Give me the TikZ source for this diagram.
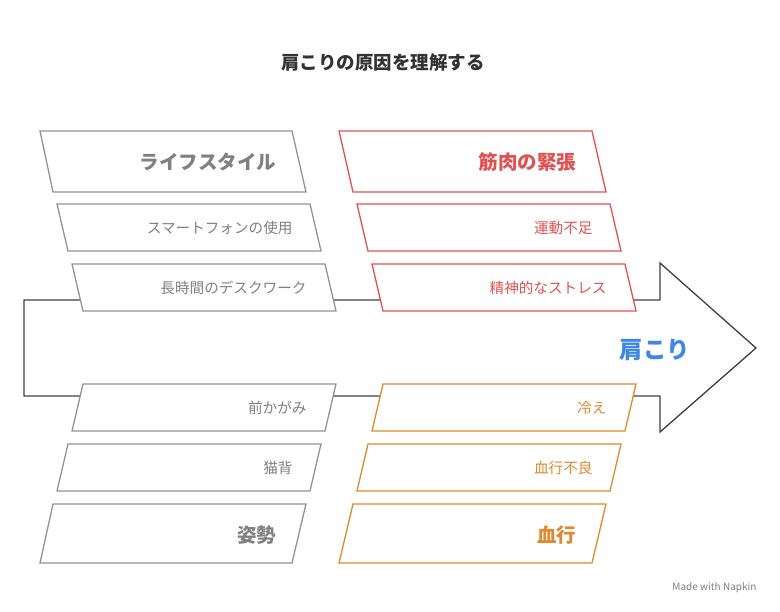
\documentclass[tikz,border=0pt]{standalone}
\usepackage{fontspec}
\setmainfont{Noto Sans CJK JP}
\begin{document}
\begin{tikzpicture}[x=1pt,y=-1pt,
  gbox/.style={draw=gray!85,line width=1.3pt,fill=white},
  rbox/.style={draw=rc,line width=1.3pt,fill=white},
  obox/.style={draw=oc,line width=1.3pt,fill=white},
  big/.style={font=\bfseries\fontsize{19.5}{21}\selectfont,anchor=east},
  small/.style={font=\fontsize{14.6}{16}\selectfont,anchor=east}]
\useasboundingbox (0,0) rectangle (780,612);
\definecolor{rc}{HTML}{E05252}\definecolor{oc}{HTML}{E0892E}\definecolor{gc}{HTML}{808080}\definecolor{bc}{HTML}{3E87E6}
\node[font=\bfseries\fontsize{18.5}{20}\selectfont,text=black!80] (title) at (383,62) {肩こりの原因を理解する};
\draw[line width=1.3pt,draw=black!75,line join=miter] (80,300) -- (24,300) -- (24,396) -- (660,396) -- (660,432) -- (756,348) -- (660,263) -- (660,300) -- cycle;
\node[font=\bfseries\fontsize{23.5}{25}\selectfont,text=bc] (kata) at (655,350) {肩こり};
% left upper
\draw[gbox] (40,131)--(292,131)--(306,192)--(53,192)--cycle;
\node[big,text=gc] (a1) at (280,162) {ライフスタイル};
\draw[gbox] (57,204)--(310,204)--(321,251)--(68,251)--cycle;
\node[small,text=gc] (a2) at (296,228) {スマートフォンの使用};
\draw[gbox] (72,264)--(325,264)--(336,311)--(83,311)--cycle;
\node[small,text=gc] (a3) at (310,288) {長時間のデスクワーク};
% left lower
\draw[gbox] (83,384)--(336,384)--(325,431)--(72,431)--cycle;
\node[small,text=gc] (b1) at (310,408) {前かがみ};
\draw[gbox] (68,444)--(321,444)--(310,491)--(57,491)--cycle;
\node[small,text=gc] (b2) at (296,468) {猫背};
\draw[gbox] (53,504)--(306,504)--(292,563)--(40,563)--cycle;
\node[big,text=gc] (b3) at (280,535) {姿勢};
% right upper
\draw[rbox] (339,131)--(592,131)--(606,192)--(353,192)--cycle;
\node[big,text=rc] (c1) at (580,162) {筋肉の緊張};
\draw[rbox] (357,204)--(610,204)--(621,251)--(368,251)--cycle;
\node[small,text=rc] (c2) at (596,228) {運動不足};
\draw[rbox] (372,264)--(625,264)--(636,311)--(383,311)--cycle;
\node[small,text=rc] (c3) at (610,288) {精神的なストレス};
% right lower
\draw[obox] (383,384)--(636,384)--(625,431)--(372,431)--cycle;
\node[small,text=oc] (d1) at (610,408) {冷え};
\draw[obox] (368,444)--(621,444)--(610,491)--(357,491)--cycle;
\node[small,text=oc] (d2) at (596,468) {血行不良};
\draw[obox] (353,504)--(606,504)--(592,563)--(339,563)--cycle;
\node[big,text=oc] (d3) at (580,535) {血行};
\node[font=\fontsize{10}{12}\selectfont,text=gray,anchor=east] (mw) at (760,588) {Made with Napkin};
\end{tikzpicture}
\end{document}
